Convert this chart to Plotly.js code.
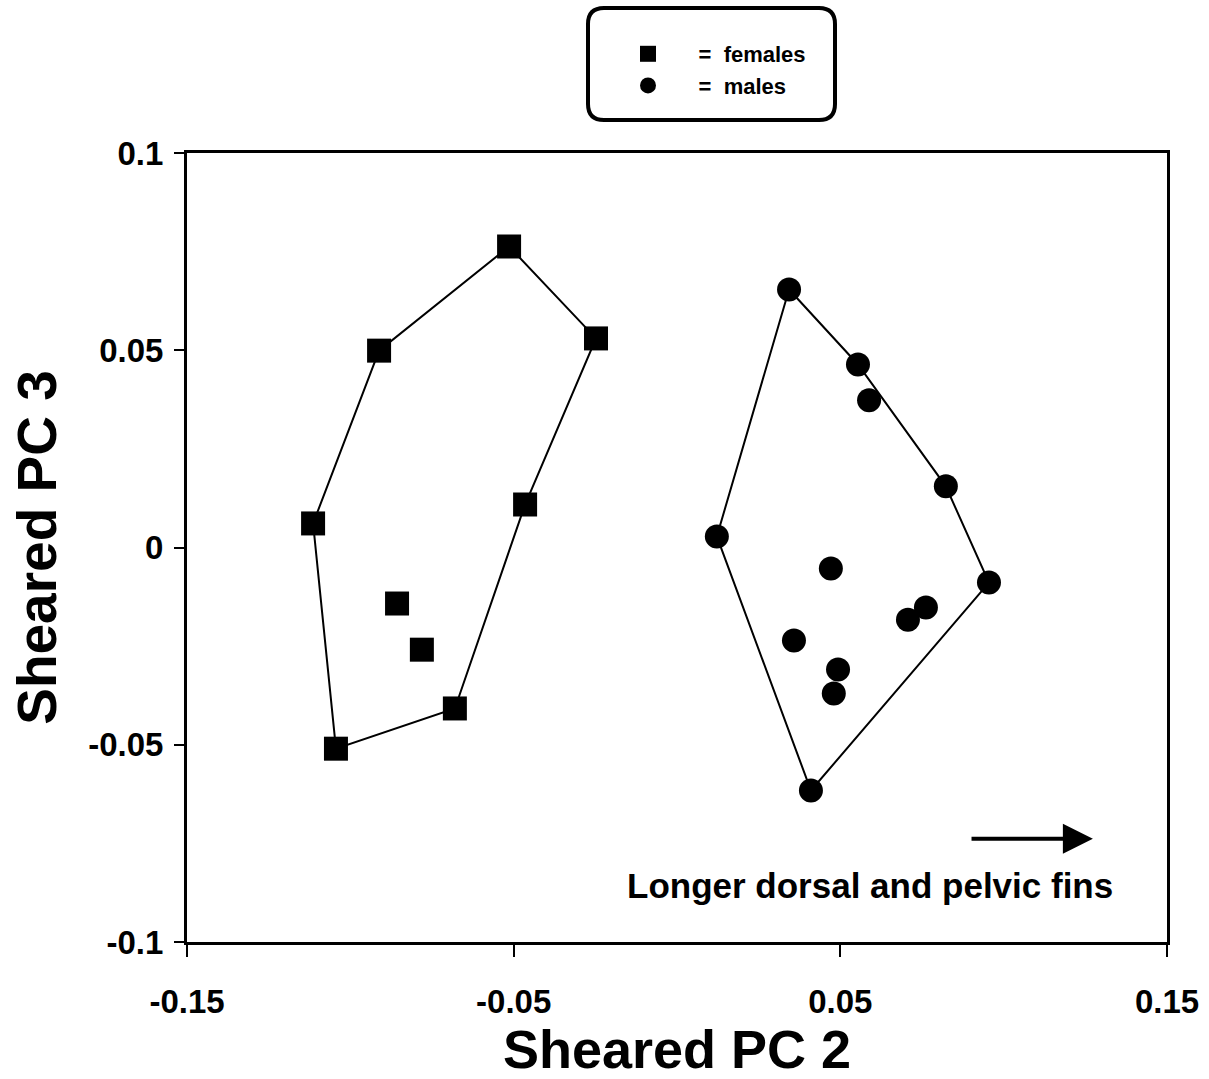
<!DOCTYPE html>
<html>
<head>
<meta charset="utf-8">
<script src="https://cdn.plot.ly/plotly-3.0.1.min.js"></script>
<style>html,body{margin:0;padding:0;background:#fff;}#chart{width:1209px;height:1079px;}</style>
</head>
<body>
<div id="chart"></div>
<script>
// ---- data ----
const femaleX = [-0.1114, -0.0912, -0.0514, -0.0248, -0.0465, -0.0680, -0.1044, -0.0857, -0.0781];
const femaleY = [ 0.0061,  0.0499,  0.0763,  0.0530,  0.0109, -0.0408, -0.0510, -0.0142, -0.0259];
const femaleHull = [0, 1, 2, 3, 4, 5, 6, 0];

const maleX = [0.0343, 0.0554, 0.0588, 0.0823, 0.0955, 0.0410, 0.0122, 0.0471, 0.0358, 0.0493, 0.0480, 0.0707, 0.0762];
const maleY = [0.0654, 0.0464, 0.0373, 0.0155, -0.0089, -0.0616, 0.0028, -0.0053, -0.0236, -0.0309, -0.0370, -0.0183, -0.0152];
const maleHull = [0, 1, 3, 4, 5, 6, 0];

const xTickVals = [-0.15, -0.05, 0.05, 0.15];
const xTickText = ['-0.15', '-0.05', '0.05', '0.15'];
const yTickVals = [-0.1, -0.05, 0, 0.05, 0.1];
const yTickText = ['-0.1', '-0.05', '0', '0.05', '0.1'];

const xTitle = 'Sheared PC 2';
const yTitle = 'Sheared PC 3';
const legendNames = ['\u00a0\u00a0\u00a0\u00a0\u00a0=\u00a0 females', '\u00a0\u00a0\u00a0\u00a0\u00a0=\u00a0 males'];
const arrowLabel = 'Longer dorsal and pelvic fins';
const arrowFrom = 0.0897, arrowTo = 0.1273, arrowAt = -0.0738;
const labelX = 0.0591, labelY = -0.0857;

// ---- drawing ----
const FONT = 'Liberation Sans, Arial, sans-serif';
const W = 1209, H = 1079;
const M = {l: 187, r: 42, t: 153, b: 137};
const pw = W - M.l - M.r, ph = H - M.t - M.b;
const px = p => (p - M.l) / pw;
const py = p => (H - M.b - p) / ph;

const traces = [
  {x: femaleHull.map(i => femaleX[i]), y: femaleHull.map(i => femaleY[i]), mode: 'lines',
   line: {color: '#000', width: 2}, showlegend: false, hoverinfo: 'skip'},
  {x: maleHull.map(i => maleX[i]), y: maleHull.map(i => maleY[i]), mode: 'lines',
   line: {color: '#000', width: 2}, showlegend: false, hoverinfo: 'skip'},
  {x: femaleX, y: femaleY, mode: 'markers', name: legendNames[0],
   marker: {symbol: 'square', size: 24, color: '#000'}},
  {x: maleX, y: maleY, mode: 'markers', name: legendNames[1],
   marker: {symbol: 'circle', size: 24, color: '#000'}}
];

// rounded legend frame
const bx0 = px(588), bx1 = px(835), byT = py(8), byB = py(120);
const rx = 16 / pw, ry = 16 / ph;
const framePath = `M${bx0+rx},${byT} L${bx1-rx},${byT} Q${bx1},${byT} ${bx1},${byT-ry} ` +
  `L${bx1},${byB+ry} Q${bx1},${byB} ${bx1-rx},${byB} L${bx0+rx},${byB} Q${bx0},${byB} ${bx0},${byB+ry} ` +
  `L${bx0},${byT-ry} Q${bx0},${byT} ${bx0+rx},${byT} Z`;

const axisCommon = {
  showgrid: false, zeroline: false, showline: true, mirror: true,
  linecolor: '#000', linewidth: 3, ticks: 'outside', tickcolor: '#000', tickwidth: 2,
  tickfont: {family: FONT, size: 33, color: '#000', weight: 'bold'}
};

const layout = {
  width: W, height: H, margin: M,
  paper_bgcolor: '#fff', plot_bgcolor: '#fff',
  xaxis: Object.assign({}, axisCommon, {
    range: [-0.15, 0.15], tickmode: 'array', tickvals: xTickVals, ticktext: xTickText,
    ticklen: 12, ticklabelstandoff: 16,
    title: {text: xTitle, font: {family: FONT, size: 54, color: '#000', weight: 'bold'}, standoff: 12}
  }),
  yaxis: Object.assign({}, axisCommon, {
    range: [-0.1, 0.1], tickmode: 'array', tickvals: yTickVals, ticktext: yTickText,
    ticklen: 10, ticklabelstandoff: 4,
    title: {text: yTitle, font: {family: FONT, size: 55, color: '#000', weight: 'bold'}, standoff: 14}
  }),
  showlegend: true,
  legend: {
    x: px(628), y: py(33), xanchor: 'left', yanchor: 'top',
    bgcolor: 'rgba(0,0,0,0)', borderwidth: 0,
    font: {family: FONT, size: 22, color: '#000', weight: 'bold'},
    itemsizing: 'trace'
  },
  shapes: [
    {type: 'path', xref: 'paper', yref: 'paper', path: framePath,
     line: {color: '#000', width: 4}, fillcolor: 'rgba(0,0,0,0)'}
  ],
  annotations: [
    {x: arrowTo, y: arrowAt, ax: arrowFrom, ay: arrowAt, xref: 'x', yref: 'y', axref: 'x', ayref: 'y',
     text: '', showarrow: true, arrowhead: 2, arrowsize: 1.5, arrowwidth: 4, arrowcolor: '#000'},
    {x: labelX, y: labelY, xref: 'x', yref: 'y', text: arrowLabel, showarrow: false,
     font: {family: FONT, size: 35, color: '#000', weight: 'bold'}}
  ]
};

Plotly.newPlot('chart', traces, layout, {displayModeBar: false, staticPlot: true});
</script>
</body>
</html>
